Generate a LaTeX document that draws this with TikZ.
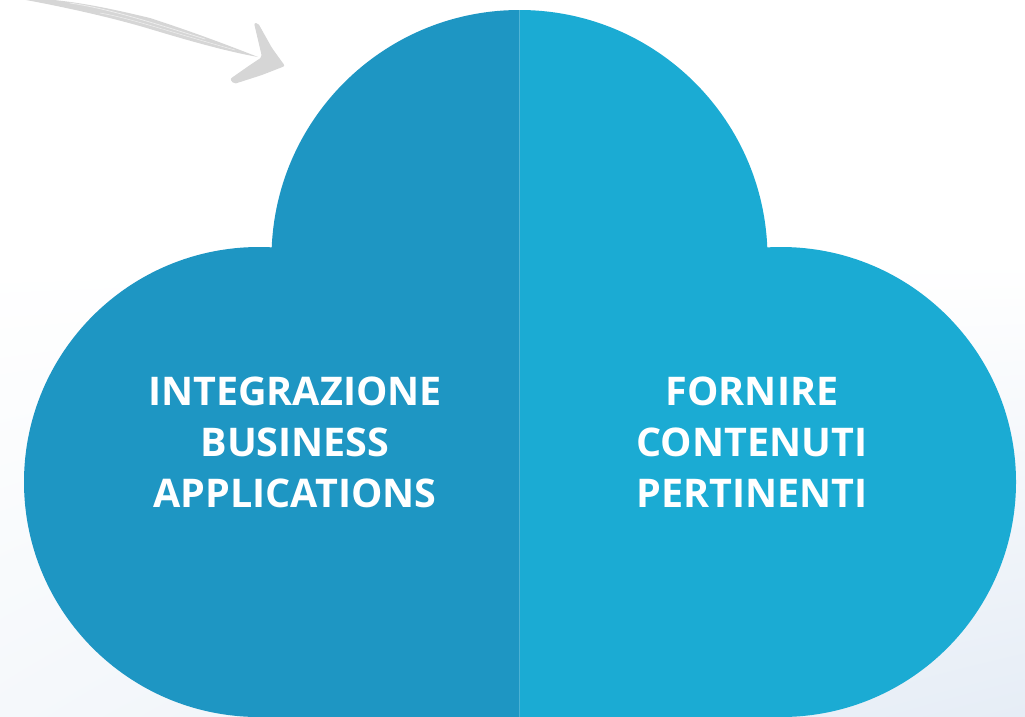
\documentclass[tikz,border=0pt]{standalone}
\usepackage{fontspec}
\usetikzlibrary{shadings}
\setmainfont{Open Sans}
\definecolor{cloudleft}{HTML}{1E96C3}
\definecolor{cloudright}{HTML}{1BABD3}
\definecolor{sketch}{HTML}{D6D6D6}
\definecolor{paleleft}{HTML}{F5F8FB}
\definecolor{paleright}{HTML}{E6EDF6}
\tikzset{
cloudtext/.style = {text=white, font=\fontsize{39.5}{51}\selectfont\bfseries, align=center},
scratch/.style = {draw=white, line cap=round, opacity=.6},}
\newcommand{\cloudpath}{
    (519.5,258) circle (248)
    (259,482) circle (235)
    (781,482) circle (235)
    (781,482) rectangle (259,717)}
\begin{document}
\begin{tikzpicture}[x=1pt, y=-1pt]
    \clip (0,0) rectangle (1025,716);
    \shade[upper left=white, upper right=white, lower left=paleleft, lower right=paleright] (0,260) rectangle (1025,716);

    % the two halves of the cloud
    \begin{scope}
        \clip (0,0) rectangle (519.5,716);
        \fill[cloudleft] \cloudpath;
    \end{scope}
    \begin{scope}
        \clip (519.5,0) rectangle (1025,716);
        \fill[cloudright] \cloudpath;
    \end{scope}

    \node[cloudtext] (business) at (295,442) {INTEGRAZIONE\\BUSINESS\\APPLICATIONS};
    \node[cloudtext] (content) at (752,442) {FORNIRE\\CONTENUTI\\PERTINENTI};

    % hand drawn arrow
    \coordinate (tail) at (15,-2);
    \coordinate (head) at (258,57);
    \fill[sketch] (tail) .. controls (60,-2) and (100,6) .. (150,18) .. controls (190,31) and (225,44) .. (head)
        .. controls (225,51) and (190,41) .. (150,29) .. controls (110,17) and (60,6) .. (tail) -- cycle;
    \draw[scratch, line width=.7pt] (70,3) .. controls (110,9) and (150,22) .. (205,39);
    \draw[scratch, line width=.5pt] (100,13) .. controls (130,18) and (170,32) .. (235,50);
    \fill[sketch, rounded corners=2pt] (254,23) -- (258,23) -- (272,48) -- (285,66) -- (262,75) -- (234,84) -- (230,79) -- (250,65) -- (262,57) -- cycle;
\end{tikzpicture}
\end{document}
